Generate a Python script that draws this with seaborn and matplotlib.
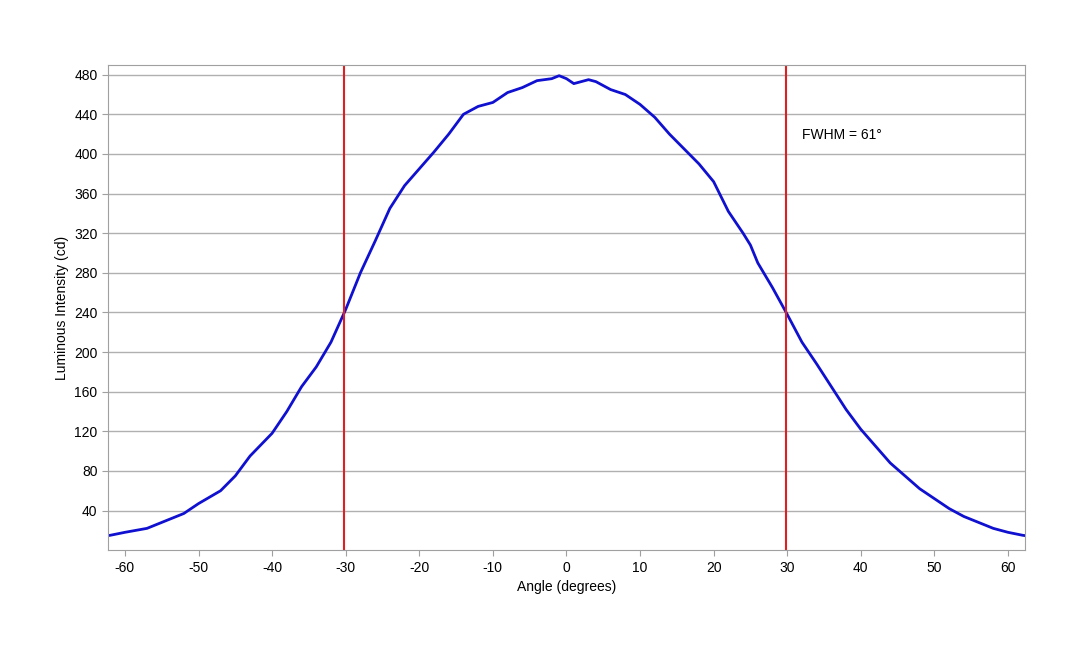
import matplotlib
matplotlib.use("Agg")
import matplotlib.pyplot as plt
import seaborn as sns
import pandas as pd

angles = [-63,-62,-60,-57,-55,-52,-50,-47,-45,-43,-40,-38,-36,-34,-32,-30,-28,-26,-24,-22,-20,-18,-16,-14,-12,-10,-8,-6,-4,-2,-1,0,1,2,3,4,6,8,10,12,14,16,18,20,22,24,25,26,28,30,32,34,36,38,40,42,44,46,48,50,52,54,56,58,60,62,63]
intensity = [14,15,18,22,28,37,47,60,75,95,118,140,165,185,210,243,280,312,345,368,385,402,420,440,448,452,462,467,474,476,479,476,471,473,475,473,465,460,450,437,420,405,390,372,342,320,308,290,265,238,210,188,165,142,122,105,88,75,62,52,42,34,28,22,18,15,14]
fwhm_lines = [-30.2, 29.8]
yticks = [40,80,120,160,200,240,280,320,360,400,440,480]
xticks = [-60,-50,-40,-30,-20,-10,0,10,20,30,40,50,60]

sns.set_style("white")
plt.rcParams['font.family'] = ['Liberation Sans', 'DejaVu Sans']
plt.rcParams['axes.unicode_minus'] = False
plt.rcParams['text.color'] = 'black'
plt.rcParams['xtick.color'] = 'black'
plt.rcParams['ytick.color'] = 'black'
plt.rcParams['axes.labelcolor'] = 'black'
fig = plt.figure(figsize=(10.8, 6.48), dpi=100)
ax = fig.add_axes([0.1, 0.151, 0.849, 0.749])
df = pd.DataFrame({"a": angles, "i": intensity})
sns.lineplot(data=df, x="a", y="i", ax=ax, color="#1010d0", linewidth=2)
for x in fwhm_lines:
    ax.axvline(x, color="#e02020", linewidth=1.5)
ax.set_xlim(-62.3, 62.3)
ax.set_ylim(0, 490)
ax.set_yticks(yticks)
ax.set_xticks(xticks)
ax.yaxis.grid(True, color="#b0b0b0", linewidth=1)
ax.set_axisbelow(True)
for s in ax.spines.values():
    s.set_color("#a0a0a0")
ax.tick_params(labelsize=10, length=4, color="#a0a0a0", left=True, bottom=True)
ax.set_xlabel("Angle (degrees)", fontsize=10)
ax.set_ylabel("Luminous Intensity (cd)", fontsize=10)
ax.text(32, 415, "FWHM = 61°", fontsize=10)
fig.savefig("out.png", dpi=100)
